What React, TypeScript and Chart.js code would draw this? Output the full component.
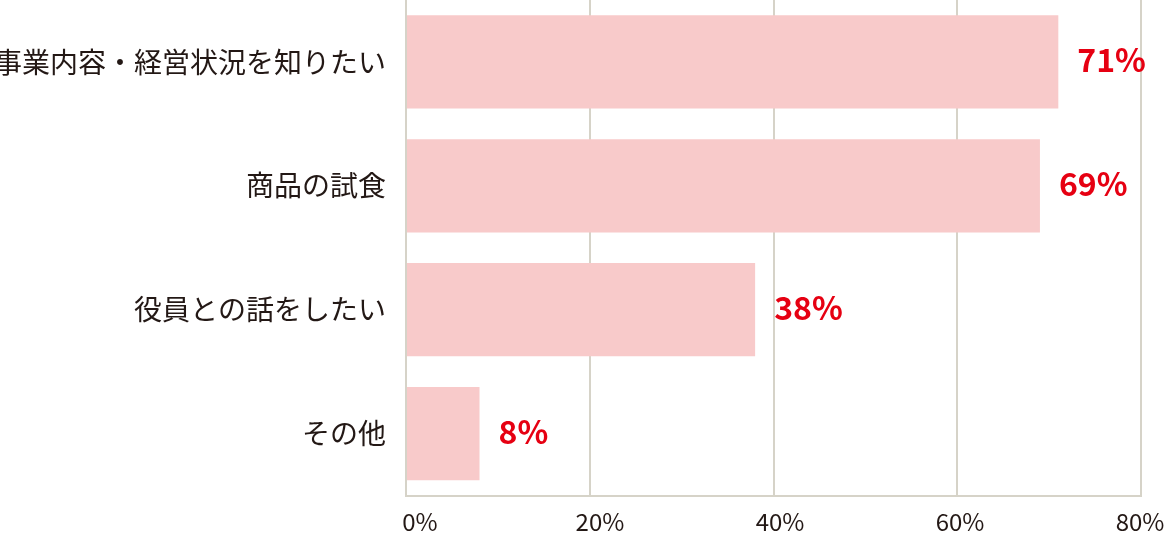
import React, { useEffect, useRef } from "react";
import { Chart, registerables } from "chart.js";

Chart.register(...registerables);

const categories = [
  "事業内容・経営状況を知りたい",
  "商品の試食",
  "役員との話をしたい",
  "その他",
];
const values = [71, 69, 38, 8];
const valueLabels = ["71%", "69%", "38%", "8%"];
const xTicks = [0, 20, 40, 60, 80];

const FONT = '"Noto Sans CJK JP", "Noto Sans", sans-serif';

const valueLabelPlugin = {
  id: "valueLabels",
  afterDatasetsDraw(chart: any) {
    const ctx = chart.ctx;
    const meta = chart.getDatasetMeta(0);
    ctx.save();
    ctx.font = `bold 32px ${FONT}`;
    ctx.fillStyle = "#e60012";
    ctx.textAlign = "left";
    ctx.textBaseline = "middle";
    meta.data.forEach((bar: any, i: number) => {
      ctx.fillText(valueLabels[i], bar.x + 19, bar.y - 2);
    });
    ctx.restore();
  },
};

export default function App() {
  const ref = useRef<HTMLCanvasElement | null>(null);

  useEffect(() => {
    document.body.style.margin = "0";
    const canvas = ref.current;
    if (!canvas) return;
    const chart = new Chart(canvas, {
      type: "bar",
      data: {
        labels: categories,
        datasets: [
          {
            data: values,
            backgroundColor: "#f8caca",
            borderWidth: 0,
            barPercentage: 0.753,
            categoryPercentage: 1,
          },
        ],
      },
      options: {
        indexAxis: "y",
        animation: false,
        responsive: false,
        devicePixelRatio: 1,
        layout: { padding: { left: 0, right: 28, top: 0, bottom: 0 } },
        plugins: {
          legend: { display: false },
          tooltip: { enabled: false },
        },
        scales: {
          y: {
            grid: { display: false, drawTicks: false },
            border: { display: false },
            ticks: {
              font: { family: FONT, size: 28 },
              color: "#231815",
              padding: 20,
              autoSkip: false,
            },
            afterFit: (s: any) => {
              s.width = 406;
              s.paddingTop = 0;
              s.paddingBottom = 0;
            },
          },
          x: {
            min: 0,
            max: 80,
            position: "bottom",
            grid: { color: "#d6d3c8", lineWidth: 2, drawTicks: false },
            border: { display: true, color: "#d6d3c8", width: 2 },
            ticks: { display: false, stepSize: 20 },
            afterFit: (s: any) => {
              s.height = 0;
              s.paddingLeft = 0;
              s.paddingRight = 0;
            },
          },
          x2: {
            type: "linear",
            position: "bottom",
            min: -1.55,
            max: 80.1,
            grid: { display: false, drawTicks: false },
            border: { display: false },
            ticks: {
              font: { family: FONT, size: 24 },
              color: "#231815",
              padding: 11.5,
              callback: (v: any) => `${v}%`,
            },
            afterBuildTicks: (s: any) => {
              s.ticks = xTicks.map((v) => ({ value: v }));
            },
            afterFit: (s: any) => {
              s.height = 58.5;
              s.paddingLeft = 0;
              s.paddingRight = 0;
            },
          },
        },
      } as any,
      plugins: [valueLabelPlugin],
    });
    return () => chart.destroy();
  }, []);

  return (
    <div style={{ width: 1169, height: 554 }}>
      <canvas ref={ref} width={1169} height={554} style={{ display: "block" }} />
    </div>
  );
}
